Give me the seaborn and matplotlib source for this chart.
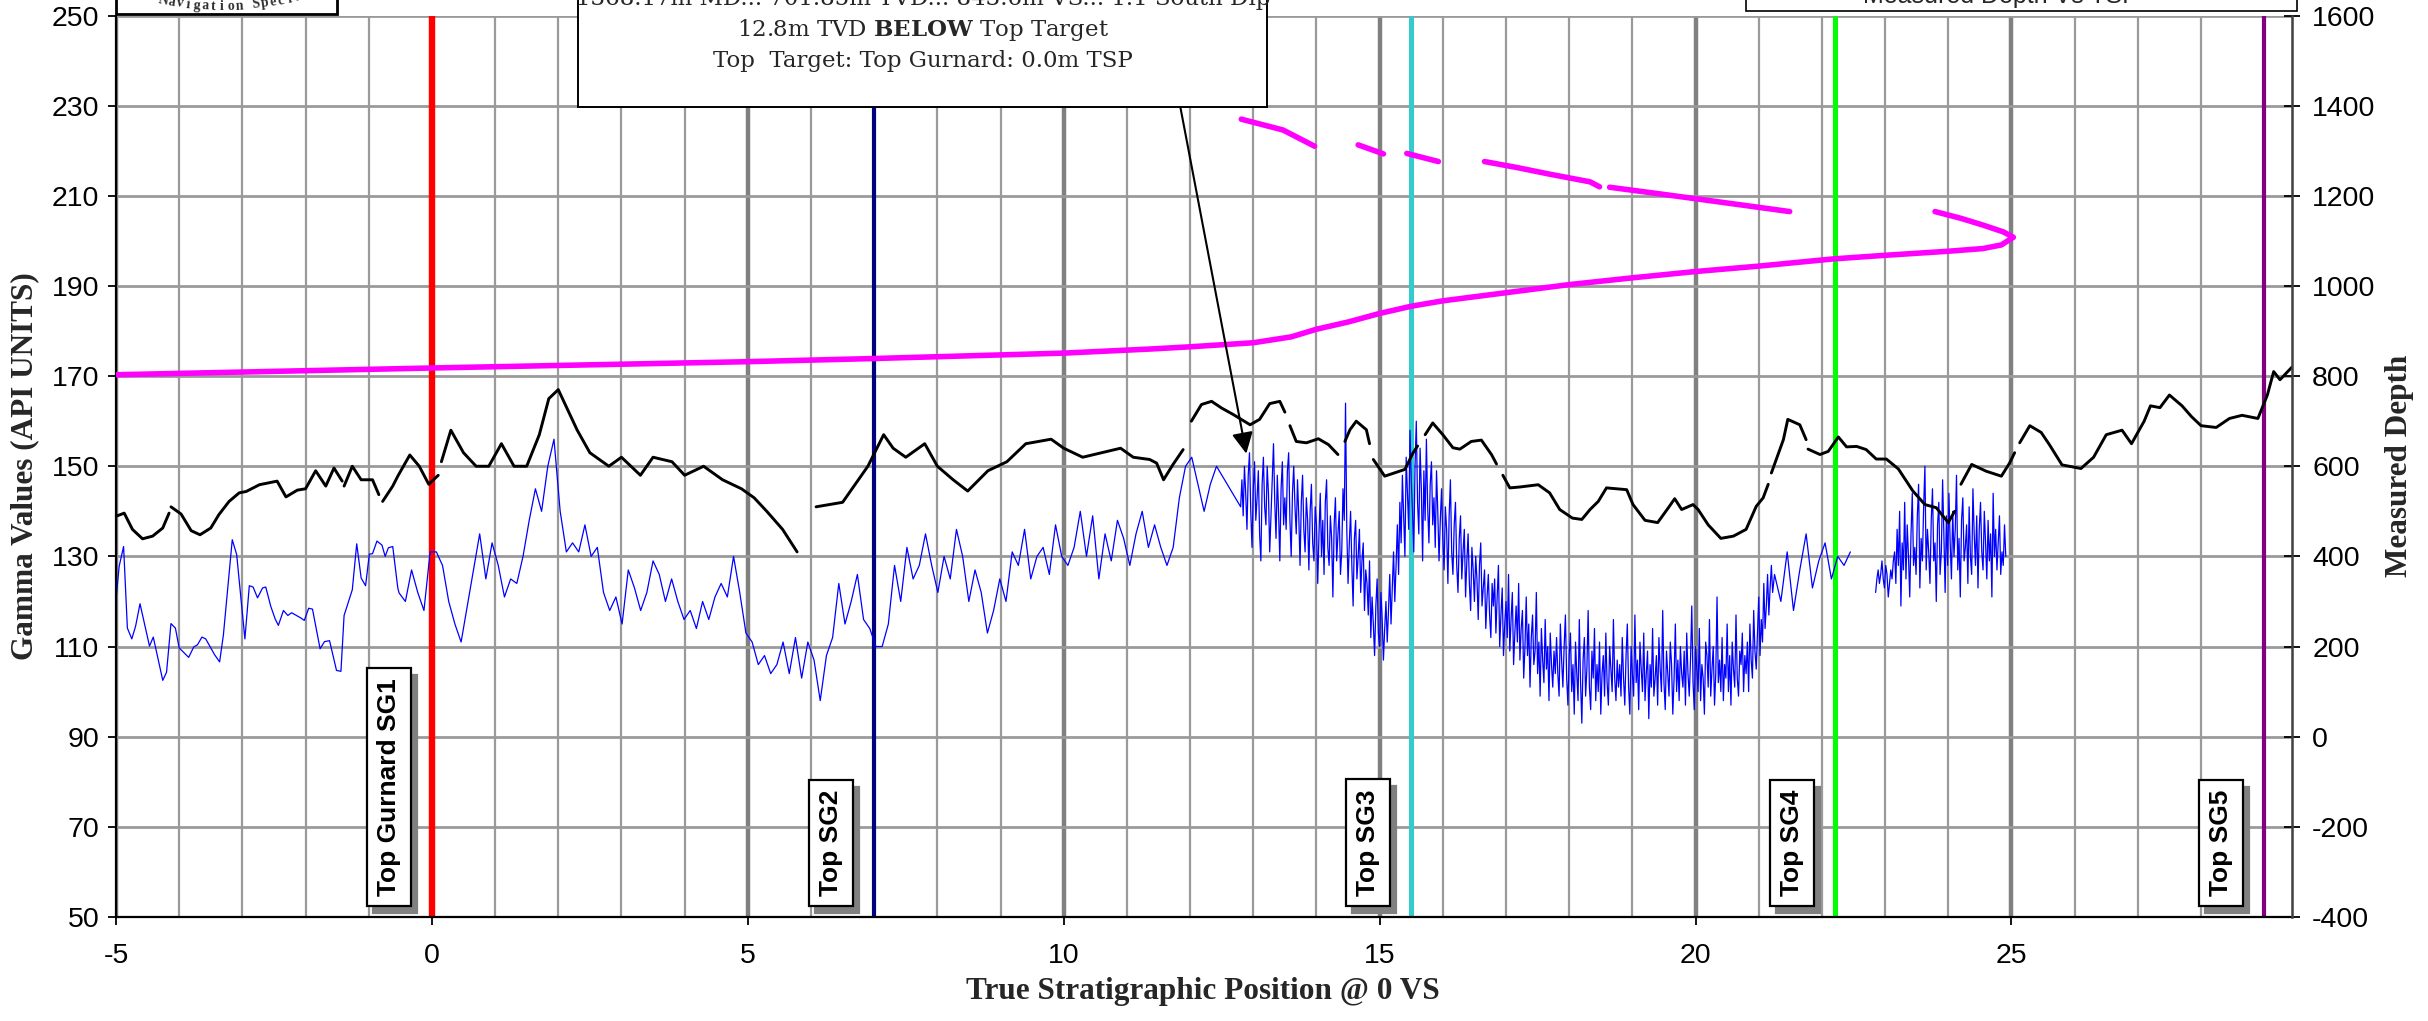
import numpy as np
import pandas as pd
import matplotlib
matplotlib.use("Agg")
import matplotlib.pyplot as plt
import matplotlib.patches as mpatches
import seaborn as sns

# ---------------- data ----------------
# Gamma log (blue) - first part, read point by point
gr_a_tsp = [-5.0, -4.95, -4.88, -4.82, -4.75, -4.69, -4.62, -4.47, -4.41, -4.26, -4.2, -4.13, -4.06, -4.0,
            -3.85, -3.77, -3.71, -3.64, -3.58, -3.44, -3.36, -3.3, -3.16, -3.09, -2.96, -2.89, -2.83, -2.76,
            -2.68, -2.63, -2.55, -2.48, -2.43, -2.35, -2.28, -2.22, -2.07, -2.02, -1.95, -1.89, -1.77, -1.7,
            -1.62, -1.51, -1.44, -1.39, -1.26, -1.19, -1.12, -1.05, -0.99, -0.94, -0.87, -0.79, -0.74, -0.69,
            -0.62, -0.54, -0.52]
gr_a_api = [120.4, 127.8, 132.2, 114.1, 111.7, 114.5, 119.5, 110.1, 112.1, 102.5, 104.3, 115.1, 114.1, 109.7,
            107.6, 109.9, 110.4, 112.1, 111.7, 108.2, 106.6, 112.6, 133.7, 130.4, 111.7, 123.5, 123.2, 120.8,
            123.0, 123.2, 118.9, 116.1, 114.7, 118.0, 116.9, 117.5, 116.3, 115.8, 118.5, 118.3, 109.5, 111.1,
            111.3, 104.7, 104.5, 116.9, 122.6, 132.8, 125.2, 123.5, 130.5, 130.6, 133.4, 132.5, 130.0, 131.9,
            132.2, 123.0, 121.9]
# Gamma log sampled every 0.098 TSP from -0.42
gr_b_start, gr_b_step = -0.42, 0.098
gr_b_api = [120, 127, 122, 118, 131, 131, 128, 120, 115, 111, 119, 127, 135, 125, 133, 128, 121, 125, 124, 130,
            138, 145, 140, 150, 156, 140, 131, 133, 131, 137, 130, 132, 122, 118, 121, 115, 127, 123, 118, 122,
            129, 126, 120, 125, 120, 116, 118, 114, 120, 116, 121, 124, 121, 130, 122, 113, 111, 106, 108, 104,
            106, 111, 104, 112, 103, 111, 107, 98, 108, 112, 124, 115, 120, 126, 116, 114, 110, 110, 115, 128,
            120, 132, 125, 128, 135, 128, 122, 130, 125, 136, 130, 120, 127, 122, 113, 118, 125, 120, 131, 128,
            136, 125, 130, 132, 126, 137, 130, 128, 132, 140, 130, 139, 125, 135, 129, 138, 134, 128, 135, 140,
            132, 137, 132, 128, 132, 143, 150, 152, 146, 140, 146, 150]
# High-resolution gamma, every 0.02 TSP from 12.80
gr_c_start, gr_c_step = 12.80, 0.02
gr_c_api = [141, 147, 139, 150, 144, 136, 148, 153, 140, 132, 145, 151, 138, 143, 149, 135, 129, 146, 152, 141,
            137, 150, 144, 131, 139, 147, 155, 142, 134, 148, 140, 129, 145, 151, 137, 143, 136, 149, 153, 138,
            130, 144, 150, 141, 135, 147, 139, 128, 142, 148,
            136, 131, 143, 138, 127, 140, 146, 133, 129, 141, 137, 124, 135, 144, 130, 138, 126, 142, 147, 132,
            128, 139, 134, 121, 137, 143, 129, 135, 140, 126, 131, 145, 138, 164, 136, 124, 133, 140, 128, 119,
            134, 138, 125, 130, 136, 122, 129, 133, 118, 127,
            124, 117, 129, 112, 121, 115, 108, 119, 125, 113, 110, 122, 116, 107, 114, 120, 111, 118, 126, 115,
            123, 131, 120, 128, 137, 126, 142, 133, 148, 139, 130, 152, 144, 136, 158, 147, 140, 131, 150, 160,
            142, 135, 154, 145, 129, 149, 138, 156, 141, 133,
            146, 151, 137, 143, 132, 149, 140, 129, 138, 145, 134, 127, 141, 136, 124, 139, 147, 131, 126, 137,
            142, 128, 122, 134, 139, 125, 131, 136, 121, 129, 135, 124, 118, 132, 127, 120, 130, 125, 116, 128,
            133, 119, 123, 127, 114, 121, 126, 117, 112, 124,
            119, 125, 113, 121, 128, 110, 117, 123, 108, 115, 120, 112, 126, 109, 116, 122, 106, 113, 119, 111,
            124, 107, 114, 118, 103, 110, 121, 108, 115, 101, 112, 117, 106, 109, 122, 104, 111, 99, 114, 107,
            102, 116, 105, 110, 98, 113, 106, 101, 109, 104,
            112, 104, 99, 115, 107, 101, 110, 117, 103, 97, 108, 113, 100, 106, 95, 111, 104, 98, 116, 102,
            93, 107, 112, 99, 105, 118, 101, 96, 109, 103, 114, 98, 106, 100, 111, 95, 104, 108, 99, 113,
            102, 97, 110, 105, 100, 116, 103, 98, 107, 101,
            106, 99, 112, 103, 97, 108, 115, 101, 95, 110, 104, 99, 117, 102, 107, 96, 111, 105, 100, 113,
            98, 104, 109, 94, 106, 101, 114, 99, 103, 108, 97, 112, 105, 100, 118, 102, 96, 109, 104, 99,
            111, 106, 95, 103, 115, 100, 107, 98, 110, 104,
            101, 109, 97, 113, 104, 99, 107, 119, 102, 96, 110, 105, 100, 114, 98, 106, 103, 95, 111, 108,
            101, 116, 99, 105, 110, 97, 104, 121, 102, 107, 100, 112, 98, 106, 103, 115, 100, 108, 97, 111,
            105, 101, 117, 103, 99, 109, 106, 113, 100, 108,
            104, 111, 100, 115, 107, 103, 118, 109, 105, 113, 121, 108, 116, 111, 124, 114, 119, 126, 117, 123,
            128, 122]
# Low-resolution gamma after 21.25, every 0.1 TSP
gr_d_start, gr_d_step = 21.25, 0.10
gr_d_api = [126, 120, 131, 118, 127, 135, 123, 129, 133, 125, 130, 128, 131]
# Gamma after the data gap, every 0.02 TSP from 22.85
gr_e_start, gr_e_step = 22.85, 0.02
gr_e_api = [122, 125, 127, 124, 126, 129, 125, 123, 128, 126, 121, 124, 127, 125, 129,
            131, 124, 136, 128, 140, 119, 133, 127, 142, 125, 137, 130, 121, 135, 144, 128, 132, 126, 139, 146,
            123, 134, 129, 141, 150, 127, 136, 131, 124, 138, 145, 129, 133, 120, 137, 142, 126, 131, 147, 135,
            122, 139, 128, 144, 133, 125, 140, 130, 136, 148, 127, 134, 121, 138, 143, 129, 132, 137, 124, 141,
            130, 126, 145, 135, 128, 139, 123, 136, 142, 131, 127, 140, 133, 125, 138, 129, 135, 121, 144, 130,
            136, 127, 133, 139, 126, 131, 128, 137, 130]

# Offset-well gamma (black), NaN = gap in the trace
ref_tsp = [-5.0, -4.87, -4.74, -4.58, -4.42, -4.26, -4.16, np.nan,
           -4.13, -3.97, -3.81, -3.67, -3.50, -3.37, -3.21, -3.05, -2.94, -2.73, -2.45, -2.31, -2.13, -2.0,
           -1.84, -1.68, -1.55, -1.42, np.nan,
           -1.39, -1.26, -1.12, -0.94, -0.84, np.nan,
           -0.78, -0.62, -0.54, -0.35, -0.2, -0.05, 0.1, np.nan,
           0.15, 0.3, 0.5, 0.7, 0.9, 1.1, 1.3, 1.5, 1.7, 1.85, 2.0, 2.1, 2.3, 2.5, 2.8, 3.0, 3.3, 3.5, 3.8,
           4.0, 4.3, 4.6, 4.9, 5.1, 5.3, 5.55, 5.78, np.nan,
           6.08, 6.5, 6.9, 7.15, 7.3, 7.5, 7.8, 8.0, 8.25, 8.48, 8.8, 9.1, 9.4, 9.8, 10.0, 10.3, 10.6, 10.9,
           11.1, 11.36, 11.47, 11.58, 11.73, 11.89, np.nan,
           12.02, 12.18, 12.34, 12.5, 12.68, 12.95, 13.1, 13.26, 13.42, 13.5, np.nan,
           13.58, 13.68, 13.84, 14.03, 14.19, 14.34, np.nan,
           14.45, 14.53, 14.63, 14.79, 14.84, np.nan,
           14.9, 15.08, 15.4, 15.53, 15.6, np.nan,
           15.72, 15.84, 16.0, 16.16, 16.27, 16.45, 16.61, 16.77, 16.85, np.nan,
           16.95, 17.06, 17.22, 17.51, 17.69, 17.85, 18.05, 18.2, 18.33, 18.46, 18.59, 18.91, 19.01, 19.2,
           19.4, 19.57, 19.67, 19.78, 19.96, 20.04, 20.2, 20.4, 20.6, 20.8, 20.96, 21.07, 21.15, np.nan,
           21.2, 21.39, 21.46, 21.65, 21.75, np.nan,
           21.78, 21.97, 22.1, 22.26, 22.39, 22.55, 22.7, 22.86, 23.02, 23.21, 23.44, 23.63, 23.81, 24.0,
           24.1, np.nan,
           24.2, 24.37, 24.6, 24.84, 24.97, 25.05, np.nan,
           25.13, 25.29, 25.47, 25.6, 25.8, 26.1, 26.3, 26.5, 26.75, 26.9, 27.1, 27.2, 27.35, 27.5, 27.7,
           27.85, 28.0, 28.24, 28.45, 28.65, 28.9, 29.05, 29.15, 29.25, 29.44]
ref_api = [138.9, 139.6, 136.0, 133.9, 134.5, 136.3, 139.6, np.nan,
           141.0, 139.4, 135.7, 134.8, 136.3, 139.3, 142.2, 144.1, 144.4, 145.9, 146.7, 143.2, 144.7, 145.0,
           149.0, 145.6, 149.6, 146.7, np.nan,
           145.6, 150.0, 147.0, 147.0, 143.7, np.nan,
           142.2, 145.6, 147.8, 152.5, 150.0, 146.0, 148.0, np.nan,
           151.0, 158.0, 153.0, 150.0, 150.0, 155.0, 150.0, 150.0, 157.0, 165.0, 167.0, 164.0, 158.0, 153.0,
           150.0, 152.0, 148.0, 152.0, 151.0, 148.0, 150.0, 147.0, 145.0, 143.0, 140.0, 136.0, 131.0, np.nan,
           141.0, 142.0, 150.0, 157.0, 154.0, 152.0, 155.0, 150.0, 147.0, 144.5, 149.0, 151.0, 155.0, 156.0,
           154.0, 152.0, 153.0, 154.0, 152.0, 151.5, 150.7, 147.0, 150.4, 153.7, np.nan,
           160.0, 163.7, 164.4, 162.9, 161.5, 159.2, 160.4, 163.9, 164.4, 162.0, np.nan,
           159.0, 155.5, 155.2, 156.1, 154.8, 152.6, np.nan,
           155.5, 158.1, 160.0, 158.1, 155.0, np.nan,
           151.5, 147.8, 149.3, 153.0, 154.5, np.nan,
           157.0, 159.6, 157.0, 154.1, 153.8, 155.5, 155.8, 152.6, 150.5, np.nan,
           148.0, 145.2, 145.4, 145.9, 144.1, 140.4, 138.5, 138.2, 140.4, 142.2, 145.2, 144.8, 141.5, 138.0,
           137.5, 140.8, 142.8, 140.4, 141.5, 140.4, 137.0, 134.0, 134.5, 136.0, 141.1, 143.0, 146.0, np.nan,
           148.5, 155.9, 160.4, 159.2, 155.9, np.nan,
           153.8, 152.6, 153.3, 156.5, 154.3, 154.4, 153.7, 151.6, 151.6, 149.4, 144.5, 141.5, 140.8, 137.5,
           140.0, np.nan,
           146.0, 150.4, 148.9, 147.8, 150.7, 153.0, np.nan,
           155.2, 159.0, 157.5, 154.8, 150.3, 149.5, 152.0, 157.0, 158.0, 155.0, 160.0, 163.4, 163.0, 165.8,
           163.4, 161.0, 159.0, 158.6, 160.6, 161.3, 160.6, 165.8, 171.0, 169.2, 172.0]

# Well path: measured depth vs TSP (magenta, right axis), NaN = gap
md_tsp = [-5.0, 0.0, 5.0, 7.0, 10.0, 11.36, 12.0, 13.0, 13.6, 14.0, 14.5, 15.0, 15.5, 16.0, 17.0, 18.0,
          19.0, 20.0, 21.0, 22.18, 23.0, 24.0, 24.55, 24.84, 25.03, 24.87, 24.55, 24.2, 23.79, np.nan,
          21.49, 20.5, 19.5, 18.64, np.nan,
          18.48, 18.33, 17.69, 17.2, 16.66, np.nan,
          15.93, 15.43, np.nan,
          15.06, 14.66, np.nan,
          13.97, 13.47, 12.81]
md_m = [803, 818, 832, 839, 851, 860, 865, 874, 887, 904, 920, 939, 955, 967, 985, 1003,
        1018, 1032, 1044, 1060, 1068, 1077, 1083, 1091, 1108, 1120, 1135, 1150, 1165, np.nan,
        1165, 1184, 1203, 1219, np.nan,
        1220, 1231, 1248, 1262, 1276, np.nan,
        1276, 1294, np.nan,
        1293, 1313, np.nan,
        1310, 1346, 1370]

marker_tsp = [0.0, 7.0, 15.5, 22.2, 29.0]
marker_names = ["Top Gurnard SG1", "Top SG2", "Top SG3", "Top SG4", "Top SG5"]
marker_colors = ["#FF0000", "#000080", "#33CCCC", "#00FF00", "#800080"]
marker_widths = [4.6, 3.0, 3.6, 3.6, 3.0]

gamma_ticks = list(range(50, 251, 20))
md_ticks = list(range(-400, 1601, 200))
tsp_ticks = list(range(-5, 26, 5))

note_lines = ["1368.17m MD... 701.85m TVD... 843.6m VS... 1.1 South Dip",
              r"12.8m TVD $\mathbf{BELOW}$ Top Target",
              "Top  Target: Top Gurnard: 0.0m TSP"]
arrow_from = (11.84, 230.1)
arrow_to = (12.89, 152.8)

# ---------------- frames ----------------
def seg_frame(xs, ys):
    df = pd.DataFrame({"tsp": np.asarray(xs, float), "val": np.asarray(ys, float)})
    df["seg"] = df["val"].isna().cumsum()
    return df.dropna()

def regular(start, step, vals):
    return [start + step * i for i in range(len(vals))]

blue_x = (gr_a_tsp + regular(gr_b_start, gr_b_step, gr_b_api) + regular(gr_c_start, gr_c_step, gr_c_api)
          + regular(gr_d_start, gr_d_step, gr_d_api) + [np.nan] + regular(gr_e_start, gr_e_step, gr_e_api))
blue_y = gr_a_api + gr_b_api + gr_c_api + gr_d_api + [np.nan] + gr_e_api
blue_df = seg_frame(blue_x, blue_y)
ref_df = seg_frame(ref_tsp, ref_api)
md_df = seg_frame(md_tsp, md_m)

# ---------------- figure ----------------
sns.set_theme(style="white")
plt.rcParams["font.family"] = ["Liberation Sans", "DejaVu Sans"]
plt.rcParams["mathtext.fontset"] = "dejavuserif"
plt.rcParams["axes.unicode_minus"] = False

W, H = 2428, 1021
fig = plt.figure(figsize=(W / 100, H / 100), dpi=100)
L, R, T, B = 116, 2292, 15.5, 917
ax = fig.add_axes([L / W, 1 - B / H, (R - L) / W, (B - T) / H])
ax.set_facecolor("white")
ax2 = ax.twinx()

ax.set_xlim(-5, 29.44)
ax.set_ylim(50, 250)
ax2.set_ylim(-400, 1600)

ax.set_axisbelow(True)
ax.set_xticks(tsp_ticks)
ax.set_xticks(list(range(-4, 30)), minor=True)
ax.set_yticks(gamma_ticks)
ax2.set_yticks(md_ticks)
ax.grid(True, which="minor", axis="x", color="#9a9a9a", lw=1.6)
ax.grid(True, which="major", axis="x", color="#808080", lw=3.2)
ax.grid(True, which="major", axis="y", color="#9a9a9a", lw=2.0)

for c, w, xv in zip(marker_colors, marker_widths, marker_tsp):
    ax.axvline(xv, color=c, lw=w, zorder=1.5, solid_capstyle="butt")

sns.lineplot(data=blue_df, x="tsp", y="val", units="seg", estimator=None, sort=False,
             color="#0000FF", lw=0.9, ax=ax, legend=False, zorder=2)
sns.lineplot(data=ref_df, x="tsp", y="val", units="seg", estimator=None, sort=False,
             color="black", lw=2.1, ax=ax, legend=False, zorder=3)
sns.lineplot(data=md_df, x="tsp", y="val", units="seg", estimator=None, sort=False,
             color="#FF00FF", lw=4.0, ax=ax2, legend=False, zorder=3, solid_capstyle="round")

# marker labels with shadow
for xv, name in zip(marker_tsp, marker_names):
    for dx, dy, fc, ec, tc in [(6, -7, "#808080", "#808080", "#808080"), (0, 0, "white", "black", "black")]:
        ax.annotate(name, xy=(xv, 50), xycoords="data", xytext=(-31 + dx, 21 + dy),
                    textcoords="offset pixels", rotation=90, ha="right", va="bottom",
                    fontsize=19, fontweight="bold", color=tc, zorder=6,
                    bbox=dict(boxstyle="square,pad=0.38", fc=fc, ec=ec, lw=1.6))

# arrow
ax2.annotate("", xy=arrow_to, xycoords=ax.transData, xytext=arrow_from, textcoords=ax.transData,
             arrowprops=dict(arrowstyle="-|>", color="black", lw=1.5, mutation_scale=32,
                             shrinkA=0, shrinkB=0), zorder=8)

# axes styling
for s in ["top", "right"]:
    ax.spines[s].set_visible(False)
ax.spines["left"].set_color("black")
ax.spines["left"].set_linewidth(1.6)
ax.spines["bottom"].set_color("black")
ax.spines["bottom"].set_linewidth(1.6)
for s in ["top", "left", "bottom"]:
    ax2.spines[s].set_visible(False)
ax2.spines["right"].set_color("#404040")
ax2.spines["right"].set_linewidth(1.8)

ax.tick_params(axis="x", which="major", direction="out", length=6, width=1.3, pad=13,
               labelsize=20.5, colors="black", bottom=True)
ax.tick_params(axis="x", which="minor", length=0)
ax.tick_params(axis="y", which="major", direction="out", length=6, width=1.3, pad=6,
               labelsize=20.5, colors="black", left=True)
ax2.tick_params(axis="y", which="major", direction="inout", length=11, width=1.3, pad=9,
                labelsize=20.5, colors="black", right=True)
ax.set_xlabel("")
ax.set_ylabel("")
ax2.set_ylabel("")

serif = ["Liberation Serif", "DejaVu Serif"]
fig.text(25 / W, 1 - 466 / H, "Gamma Values (API UNITS)", rotation=90, ha="center", va="center",
         family=serif, fontweight="bold", fontsize=22.5)
fig.text(2400 / W, 1 - 466 / H, "Measured Depth", rotation=90, ha="center", va="center",
         family=serif, fontweight="bold", fontsize=22.5)
fig.text(1203 / W, 1 - 991 / H, "True Stratigraphic Position @ 0 VS", ha="center", va="center",
         family=serif, fontweight="bold", fontsize=22.5)

# annotation box (top centre)
fig.add_artist(mpatches.Rectangle((577.6 / W, 1 - 106.8 / H), (1267 - 577.6) / W, 0.2,
                                  transform=fig.transFigure, fc="white", ec="black", lw=1.4, zorder=5))
for line, yb in zip(note_lines, [5.5, 36, 67.5]):
    fig.text(923 / W, 1 - yb / H, line, ha="center", va="baseline", family=["DejaVu Serif"],
             fontsize=16.5, zorder=6)

# logo box (top left)
fig.add_artist(mpatches.Rectangle((116 / W, 1 - 14.3 / H), (337 - 116) / W, 0.2,
                                  transform=fig.transFigure, fc="white", ec="black", lw=2.0, zorder=5))
logo = "Navigation Specialists"
cx, Rr, base = 222.0, 300.0, 10.0
for i, ch in enumerate(logo):
    s = (i - 7) * 8.6
    th = s / Rr
    xp = cx + Rr * np.sin(th)
    yp = base - Rr * (1 - np.cos(th))
    fig.text(xp / W, 1 - yp / H, ch, rotation=np.degrees(th), rotation_mode="anchor", ha="center",
             va="baseline", family=serif, fontweight="bold", fontsize=10, color="#303030", zorder=6)

# legend box (top right)
fig.add_artist(mpatches.Rectangle((1746 / W, 1 - 10.7 / H), (2297 - 1746) / W, 0.2,
                                  transform=fig.transFigure, fc="white", ec="black", lw=1.2, zorder=5))
fig.text(2001 / W, 1 - 3.3 / H, "Measured Depth Vs TSP", ha="center", va="baseline", fontsize=18,
         zorder=6)

fig.savefig("out.png", dpi=100)
